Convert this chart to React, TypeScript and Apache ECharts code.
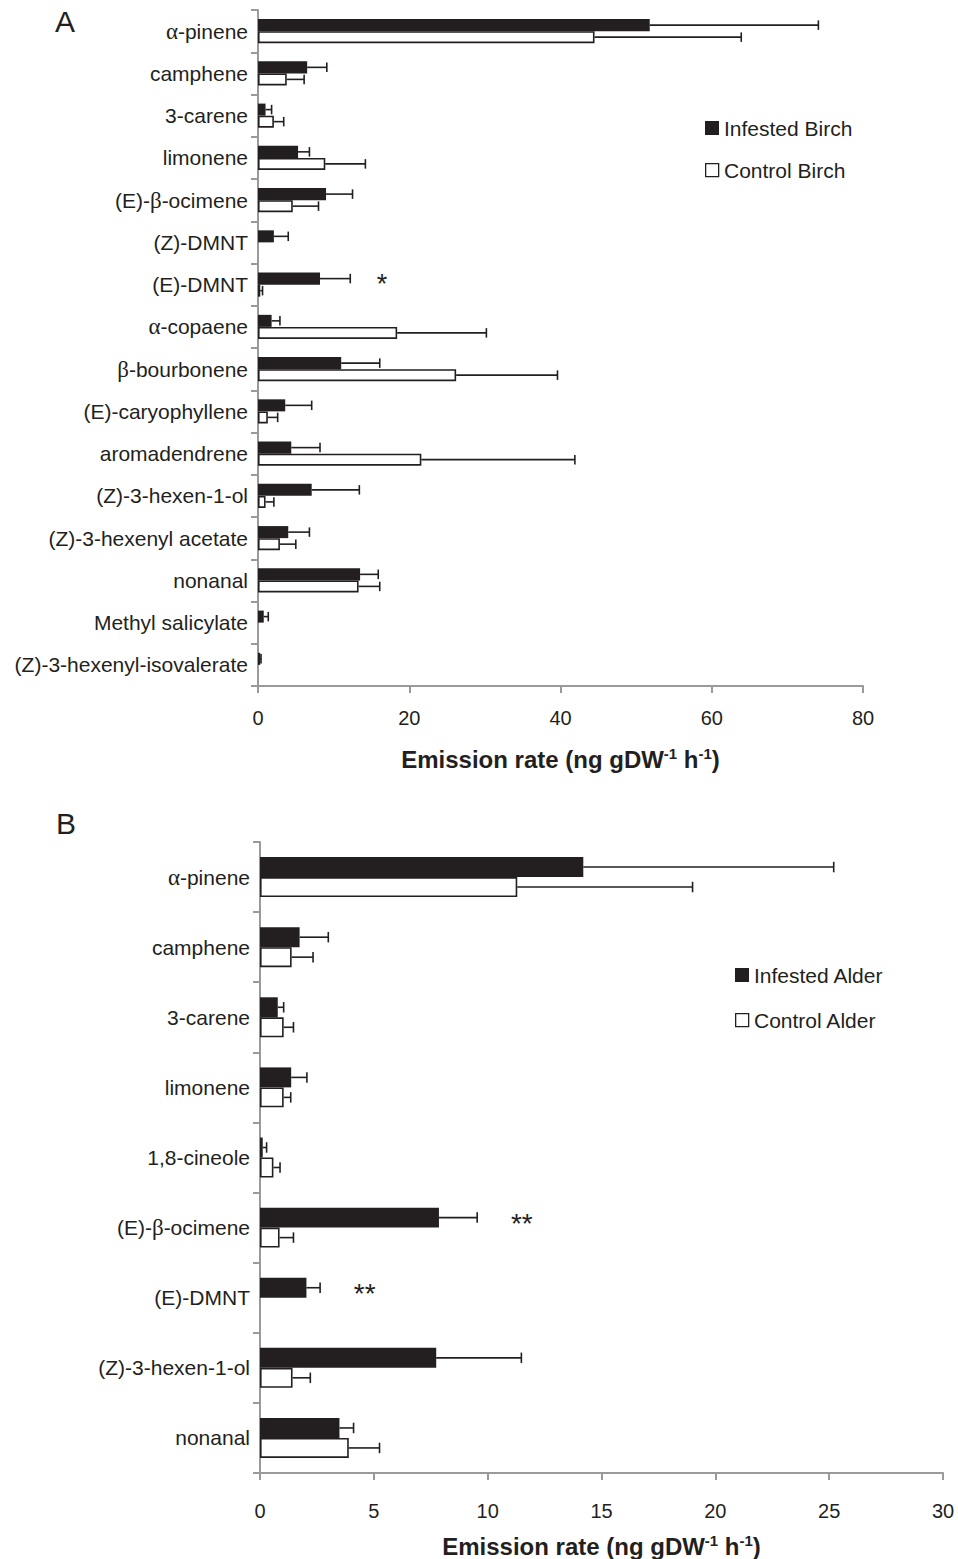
import React, { useEffect, useRef } from "react";
import * as echarts from "echarts";

// ---------- Data (panel A: birch) ----------
const birchCategories = [
  "α-pinene", "camphene", "3-carene", "limonene", "(E)-β-ocimene", "(Z)-DMNT", "(E)-DMNT",
  "α-copaene", "β-bourbonene", "(E)-caryophyllene", "aromadendrene", "(Z)-3-hexen-1-ol",
  "(Z)-3-hexenyl acetate", "nonanal", "Methyl salicylate", "(Z)-3-hexenyl-isovalerate",
];
const birchInfested = [51.8, 6.5, 1.0, 5.3, 9.0, 2.1, 8.2, 1.8, 11.0, 3.6, 4.4, 7.1, 4.0, 13.5, 0.76, 0.3];
const birchInfestedSE = [22.3, 2.6, 0.8, 1.5, 3.5, 1.9, 4.0, 1.1, 5.1, 3.5, 3.8, 6.3, 2.8, 2.4, 0.6, 0.1];
const birchControl = [44.5, 3.8, 2.1, 8.9, 4.6, 0, 0.3, 18.4, 26.2, 1.3, 21.6, 1.0, 2.9, 13.3, 0, 0];
const birchControlSE = [19.4, 2.3, 1.3, 5.3, 3.4, 0, 0.3, 11.8, 13.4, 1.3, 20.3, 1.1, 2.1, 2.8, 0, 0];
const birchSignificance = [["(E)-DMNT", 16.4, "*"]];

// ---------- Data (panel B: alder) ----------
const alderCategories = [
  "α-pinene", "camphene", "3-carene", "limonene", "1,8-cineole", "(E)-β-ocimene", "(E)-DMNT",
  "(Z)-3-hexen-1-ol", "nonanal",
];
const alderInfested = [14.2, 1.74, 0.78, 1.37, 0.12, 7.86, 2.04, 7.74, 3.49];
const alderInfestedSE = [11.0, 1.26, 0.26, 0.69, 0.17, 1.68, 0.6, 3.74, 0.62];
const alderControl = [11.3, 1.39, 1.04, 1.04, 0.59, 0.86, 0, 1.43, 3.9];
const alderControlSE = [7.7, 0.94, 0.43, 0.31, 0.29, 0.61, 0, 0.78, 1.35];
const alderSignificance = [["(E)-β-ocimene", 11.5, "**"], ["(E)-DMNT", 4.6, "**"]];

const birchTicks = { max: 80, interval: 20 };
const alderTicks = { max: 30, interval: 5 };

const INK = "#231f20";
const AX = "#9a9a9a";
const FONT = "'Liberation Sans', Arial, Helvetica, sans-serif";
const GAP = 0.43;

const greek = (s: string) => s.replace(/([αβ])/g, "{g|$1}");

function catAxis(gridIndex: number, data: string[]) {
  return {
    type: "category",
    gridIndex,
    data,
    inverse: true,
    axisLine: { show: true, lineStyle: { color: AX, width: 2 } },
    axisTick: { show: true, length: 7, lineStyle: { color: AX, width: 2 } },
    axisLabel: {
      margin: 10,
      fontSize: 21,
      color: INK,
      fontFamily: FONT,
      formatter: (v: string) => greek(v),
      rich: { g: { fontFamily: "'Liberation Serif', 'DejaVu Serif', serif", fontSize: 23, color: INK } },
    },
    splitLine: { show: false },
  };
}

function valAxis(gridIndex: number, ticks: { max: number; interval: number }, labelMargin: number) {
  return {
    type: "value",
    gridIndex,
    min: 0,
    max: ticks.max,
    interval: ticks.interval,
    axisLine: { show: true, lineStyle: { color: AX, width: 2 } },
    axisTick: { show: true, length: 7, lineStyle: { color: AX, width: 2 } },
    splitLine: { show: false },
    axisLabel: { fontSize: 20, color: INK, fontFamily: FONT, margin: labelMargin },
    name: "Emission rate (ng gDW{s|-1} h{s|-1})",
    nameLocation: "middle",
    nameGap: 60,
    nameTextStyle: {
      fontSize: 24,
      fontWeight: "bold",
      color: INK,
      fontFamily: FONT,
      rich: {
        s: { fontSize: 15, fontWeight: "bold", color: INK, fontFamily: FONT, verticalAlign: "bottom", padding: [0, 0, 11, 0] },
      },
    },
  };
}

function errorSeries(idx: number, values: number[], se: number[], side: number, capH: number) {
  const data = values
    .map((v, i) => [i, v, v + se[i], se[i]])
    .filter((d) => d[3] > 0);
  return {
    type: "custom",
    xAxisIndex: idx,
    yAxisIndex: idx,
    z: 5,
    silent: true,
    encode: { x: [1, 2], y: 0 },
    data,
    renderItem: (params: any, api: any) => {
      const c = api.value(0);
      const p0 = api.coord([api.value(1), c]);
      const p1 = api.coord([api.value(2), c]);
      const band = api.size([0, 1])[1];
      const bw = (band * (1 - GAP)) / 2;
      const cy = p0[1] + (side * bw) / 2;
      const st = { stroke: INK, lineWidth: 1.6 };
      return {
        type: "group",
        children: [
          { type: "line", shape: { x1: p0[0], y1: cy, x2: p1[0], y2: cy }, style: st },
          { type: "line", shape: { x1: p1[0], y1: cy - capH / 2, x2: p1[0], y2: cy + capH / 2 }, style: st },
        ],
      };
    },
  };
}

function sigSeries(idx: number, cats: string[], sig: any[], fontSize: number) {
  return {
    type: "custom",
    xAxisIndex: idx,
    yAxisIndex: idx,
    z: 6,
    silent: true,
    encode: { x: 1, y: 0 },
    data: sig.map((s) => [cats.indexOf(s[0]), s[1], s[2]]),
    renderItem: (params: any, api: any) => {
      const c = api.value(0);
      const p = api.coord([api.value(1), c]);
      const band = api.size([0, 1])[1];
      const bw = (band * (1 - GAP)) / 2;
      const d = sig[params.dataIndex];
      return {
        type: "text",
        x: p[0],
        y: p[1] - bw / 2 + fontSize * 0.2,
        style: {
          text: d[2],
          fontSize,
          fontFamily: FONT,
          fill: INK,
          align: "center",
          verticalAlign: "middle",
        },
      };
    },
  };
}

function barSeries(name: string, idx: number, values: number[], filled: boolean) {
  return {
    name,
    type: "bar",
    xAxisIndex: idx,
    yAxisIndex: idx,
    barGap: "0%",
    barCategoryGap: GAP * 100 + "%",
    data: values.map((v) => (v === 0 ? null : v)),
    itemStyle: filled
      ? { color: INK }
      : { color: "#ffffff", borderColor: INK, borderWidth: 1.6 },
  };
}

function legendItems(x: number, y1: number, y2: number, names: string[]) {
  const sq = 14;
  return [
    { type: "rect", left: x, top: y1 - sq / 2, shape: { width: sq, height: sq }, style: { fill: INK } },
    {
      type: "text", left: x + sq + 5, top: y1 - 12,
      style: { text: names[0], fontSize: 21, fontFamily: FONT, fill: INK, lineHeight: 24 },
    },
    { type: "rect", left: x, top: y2 - sq / 2, shape: { width: sq - 1, height: sq - 1 }, style: { fill: "#fff", stroke: INK, lineWidth: 1.3 } },
    {
      type: "text", left: x + sq + 5, top: y2 - 12,
      style: { text: names[1], fontSize: 21, fontFamily: FONT, fill: INK, lineHeight: 24 },
    },
  ];
}

export default function App() {
  const ref = useRef<HTMLDivElement>(null);
  useEffect(() => {
    if (!ref.current) return;
    const chart = echarts.init(ref.current, undefined, { renderer: "svg" });
    chart.setOption({
      animation: false,
      backgroundColor: "#ffffff",
      textStyle: { fontFamily: FONT },
      grid: [
        { left: 258, top: 10, width: 605, height: 676 },
        { left: 260, top: 842, width: 683, height: 632 },
      ],
      xAxis: [valAxis(0, birchTicks, 22), valAxis(1, alderTicks, 28)],
      yAxis: [catAxis(0, birchCategories), catAxis(1, alderCategories)],
      series: [
        barSeries("Infested Birch", 0, birchInfested, true),
        barSeries("Control Birch", 0, birchControl, false),
        errorSeries(0, birchInfested, birchInfestedSE, -1, 9.5),
        errorSeries(0, birchControl, birchControlSE, 1, 9.5),
        sigSeries(0, birchCategories, birchSignificance, 27),
        barSeries("Infested Alder", 1, alderInfested, true),
        barSeries("Control Alder", 1, alderControl, false),
        errorSeries(1, alderInfested, alderInfestedSE, -1, 10.5),
        errorSeries(1, alderControl, alderControlSE, 1, 10.5),
        sigSeries(1, alderCategories, alderSignificance, 28),
      ],
      graphic: [
        { type: "text", left: 55, top: 6, style: { text: "A", fontSize: 30, fontFamily: FONT, fill: INK } },
        { type: "text", left: 56, top: 808, style: { text: "B", fontSize: 30, fontFamily: FONT, fill: INK } },
        ...legendItems(705, 128, 170, ["Infested Birch", "Control Birch"]),
        ...legendItems(735, 975, 1020, ["Infested Alder", "Control Alder"]),
      ],
    });
    return () => chart.dispose();
  }, []);
  return (
    <div
      ref={ref}
      style={{ position: "absolute", left: 0, top: 0, width: 958, height: 1559, background: "#fff" }}
    />
  );
}
